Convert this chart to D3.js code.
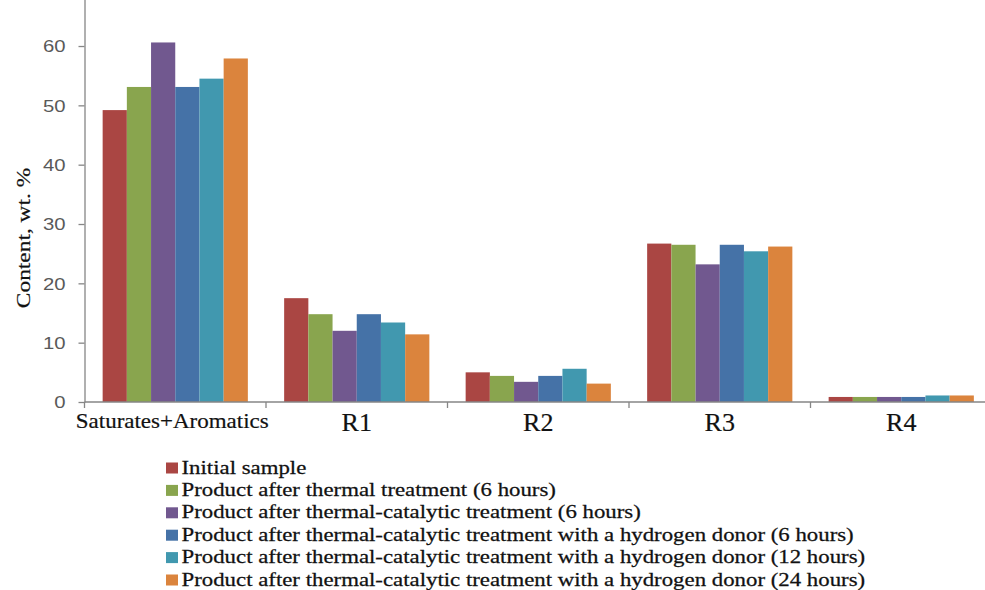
<!DOCTYPE html>
<html>
<head>
<meta charset="utf-8">
<script src="https://cdn.jsdelivr.net/npm/d3@7"></script>
<style>
  html, body { margin: 0; padding: 0; background: #fff; }
  svg { display: block; }
</style>
</head>
<body>
<svg id="chart" width="985" height="590"></svg>
<script>
// ---- data ----
const categories = ["Saturates+Aromatics", "R1", "R2", "R3", "R4"];
const seriesNames = [
  "Initial sample",
  "Product after thermal treatment (6 hours)",
  "Product after thermal-catalytic treatment (6 hours)",
  "Product after thermal-catalytic treatment with a hydrogen donor (6 hours)",
  "Product after thermal-catalytic treatment with a hydrogen donor (12 hours)",
  "Product after thermal-catalytic treatment with a hydrogen donor (24 hours)"
];
const initialSample   = [49.2, 17.5, 5.0, 26.7, 0.85];
const thermal6h       = [53.1, 14.8, 4.4, 26.5, 0.85];
const thermoCat6h     = [60.6, 12.0, 3.4, 23.2, 0.85];
const hydrogen6h      = [53.1, 14.8, 4.4, 26.5, 0.85];
const hydrogen12h     = [54.5, 13.4, 5.6, 25.4, 1.1];
const hydrogen24h     = [57.9, 11.4, 3.1, 26.2, 1.1];
const seriesValues = [initialSample, thermal6h, thermoCat6h, hydrogen6h, hydrogen12h, hydrogen24h];
const yTicks = [0, 10, 20, 30, 40, 50, 60];
const colors = ["#AA4643", "#89A54E", "#71588F", "#4572A7", "#4198AF", "#DB843D"];

// ---- layout ----
const svg = d3.select("#chart");
const x0 = 84.5, catStep = 181.5, yBase = 402;
const x = d3.scaleBand().domain(categories).range([x0, x0 + catStep * categories.length]).paddingInner(0).paddingOuter(0);
const xi = d3.scaleBand().domain(d3.range(seriesNames.length)).range([0, x.bandwidth()]).paddingInner(0).paddingOuter(0.75);
const y = d3.scaleLinear().domain([0, 70]).range([yBase, yBase - 70 * 5.933]);

const axisColor = "#868686";

// stretch helper: scale text along its direction
function place(sel, tx, ty, sx, rot) {
  sel.attr("x", 0).attr("y", 0)
     .attr("transform", `translate(${tx},${ty})` + (rot ? ` rotate(${rot})` : "") + ` scale(${sx},1)`);
}

// bars
const rows = categories.map((c, ci) => seriesValues.map((vals, si) => ({ c, si, v: vals[ci] })));
svg.append("g").selectAll("g").data(rows).join("g")
  .selectAll("rect").data(d => d).join("rect")
  .attr("x", d => x(d.c) + xi(d.si))
  .attr("width", xi.bandwidth())
  .attr("y", d => y(d.v))
  .attr("height", d => y(0) - y(d.v))
  .attr("fill", d => colors[d.si]);

// y axis
const yAxis = svg.append("g").attr("transform", `translate(${x0},0)`)
  .call(d3.axisLeft(y).tickValues(yTicks).tickSize(6).tickSizeOuter(0).tickFormat(d3.format("d")));
yAxis.select(".domain").attr("stroke", axisColor).attr("stroke-width", 1.3);
yAxis.selectAll(".tick line").attr("stroke", axisColor).attr("stroke-width", 1.3);
yAxis.selectAll(".tick text").each(function(d) {
  const t = d3.select(this);
  t.attr("font-family", "Liberation Sans, Arial, sans-serif").attr("font-size", 16)
   .attr("fill", "#595959").attr("text-anchor", "end").attr("dy", "0.36em");
  place(t, -19, 0, 1.27);
});

// x axis
const xg = svg.append("g");
xg.append("line").attr("x1", x0).attr("x2", x.range()[1]).attr("y1", yBase).attr("y2", yBase)
  .attr("stroke", axisColor).attr("stroke-width", 1.3);
const bounds = categories.map(c => x(c)).concat([x.range()[1]]);
xg.selectAll("line.tk").data(bounds).join("line").attr("class", "tk")
  .attr("x1", d => d).attr("x2", d => d).attr("y1", yBase).attr("y2", yBase + 6)
  .attr("stroke", axisColor).attr("stroke-width", 1.3);
xg.selectAll("text").data(categories).join("text")
  .attr("font-family", "Liberation Serif, 'Times New Roman', serif")
  .attr("font-size", (d, i) => i === 0 ? 21.5 : 26)
  .attr("text-anchor", "middle").attr("fill", "#111")
  .attr("stroke", "#111").attr("stroke-width", 0.2)
  .each(function(d, i) {
    place(d3.select(this), x(d) + x.bandwidth() / 2 - (i === 0 ? 3 : 0), i === 0 ? 428 : 430.5, i === 0 ? 1.07 : 1.0);
  })
  .text(d => d);

// y title
const yt = svg.append("text").text("Content, wt. %")
  .attr("font-family", "Liberation Serif, 'Times New Roman', serif").attr("font-size", 18)
  .attr("text-anchor", "middle").attr("fill", "#111")
  .attr("stroke", "#111").attr("stroke-width", 0.2);
place(yt, 30, 238, 1.3, -90);

// legend
const lg = svg.append("g");
const legRows = lg.selectAll("g").data(seriesNames).join("g");
legRows.append("rect")
  .attr("x", 166).attr("y", (d, i) => 462.5 + i * 22.4)
  .attr("width", 12).attr("height", 11)
  .attr("fill", (d, i) => colors[i]);
legRows.append("text").text(d => d)
  .attr("font-family", "Liberation Serif, 'Times New Roman', serif").attr("font-size", 18.5)
  .attr("fill", "#111").attr("stroke", "#111").attr("stroke-width", 0.25)
  .each(function(d, i) { place(d3.select(this), 181.5, 473.5 + i * 22.4, 1.234); });
</script>
</body>
</html>
